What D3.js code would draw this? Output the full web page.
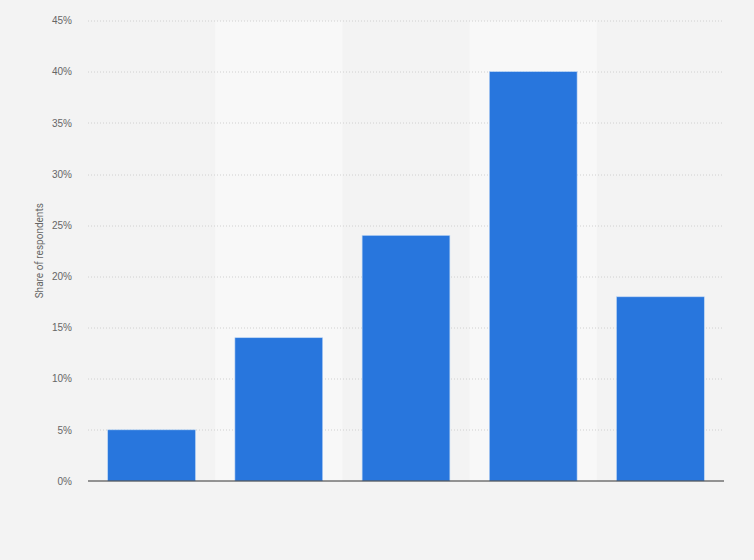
<!DOCTYPE html>
<html>
<head>
<meta charset="utf-8">
<script src="https://cdn.jsdelivr.net/npm/d3@7"></script>
<style>
  body { margin: 0; background: #f3f3f3; }
  svg { display: block; font-family: Roboto, "Liberation Sans", Arial, sans-serif; }
</style>
</head>
<body>
<div id="chart"></div>
<script>
// data
const categories = ["A", "B", "C", "D", "E"];
const shares = [5, 14, 24, 40, 18];
const yTicks = [0, 5, 10, 15, 20, 25, 30, 35, 40, 45];

// set the dimensions and margins of the graph
const margin = {top: 20.5, right: 30, bottom: 79, left: 88},
    width = 754 - margin.left - margin.right,
    height = 560 - margin.top - margin.bottom;

const svg = d3.select("#chart")
    .append("svg")
    .attr("width", 754)
    .attr("height", 560);

svg.append("rect")
    .attr("width", 754)
    .attr("height", 560)
    .attr("fill", "#f3f3f3");

const g = svg.append("g")
    .attr("transform", `translate(${margin.left},${margin.top})`);

// scales
const x = d3.scaleBand()
    .domain(categories)
    .range([0, width])
    .paddingInner(0.31)
    .paddingOuter(0.155);

const xBand = d3.scaleBand()
    .domain(categories)
    .range([0, width]);

const y = d3.scaleLinear()
    .domain([0, 45])
    .range([height, 0]);

// alternating column backgrounds
g.append("g")
    .selectAll("rect")
    .data(categories.filter((d, i) => i % 2 === 1))
    .join("rect")
    .attr("x", d => xBand(d))
    .attr("y", 0)
    .attr("width", xBand.bandwidth())
    .attr("height", height)
    .attr("fill", "#f8f8f8");

// gridlines
g.append("g")
    .selectAll("line")
    .data(yTicks.filter(d => d > 0))
    .join("line")
    .attr("x1", 0)
    .attr("x2", width)
    .attr("y1", d => Math.round(y(d)) + 0.5)
    .attr("y2", d => Math.round(y(d)) + 0.5)
    .attr("stroke", "#d0d0d0")
    .attr("stroke-width", 1)
    .attr("stroke-dasharray", "1,2");

// Y axis
const yAxis = g.append("g")
    .call(d3.axisLeft(y).tickValues(yTicks).tickFormat(d => d + "%").tickSize(0).tickPadding(16));
yAxis.select(".domain").remove();
yAxis.selectAll("text")
    .attr("fill", "#666")
    .style("font-size", "10px");

// bars
g.append("g")
    .selectAll("rect")
    .data(shares)
    .join("rect")
    .attr("x", (d, i) => x(categories[i]))
    .attr("y", d => y(d))
    .attr("width", x.bandwidth())
    .attr("height", d => height - y(d))
    .attr("fill", "#2876dd")
    .attr("stroke", "#bcd6f5")
    .attr("stroke-width", 0.6);

// baseline
g.append("line")
    .attr("x1", 0)
    .attr("x2", width)
    .attr("y1", height)
    .attr("y2", height)
    .attr("stroke", "#333")
    .attr("stroke-width", 1.2);

// y axis title
svg.append("text")
    .attr("transform", `translate(43, ${margin.top + height / 2}) rotate(-90)`)
    .attr("text-anchor", "middle")
    .attr("fill", "#666")
    .style("font-size", "10px")
    .text("Share of respondents");
</script>
</body>
</html>
